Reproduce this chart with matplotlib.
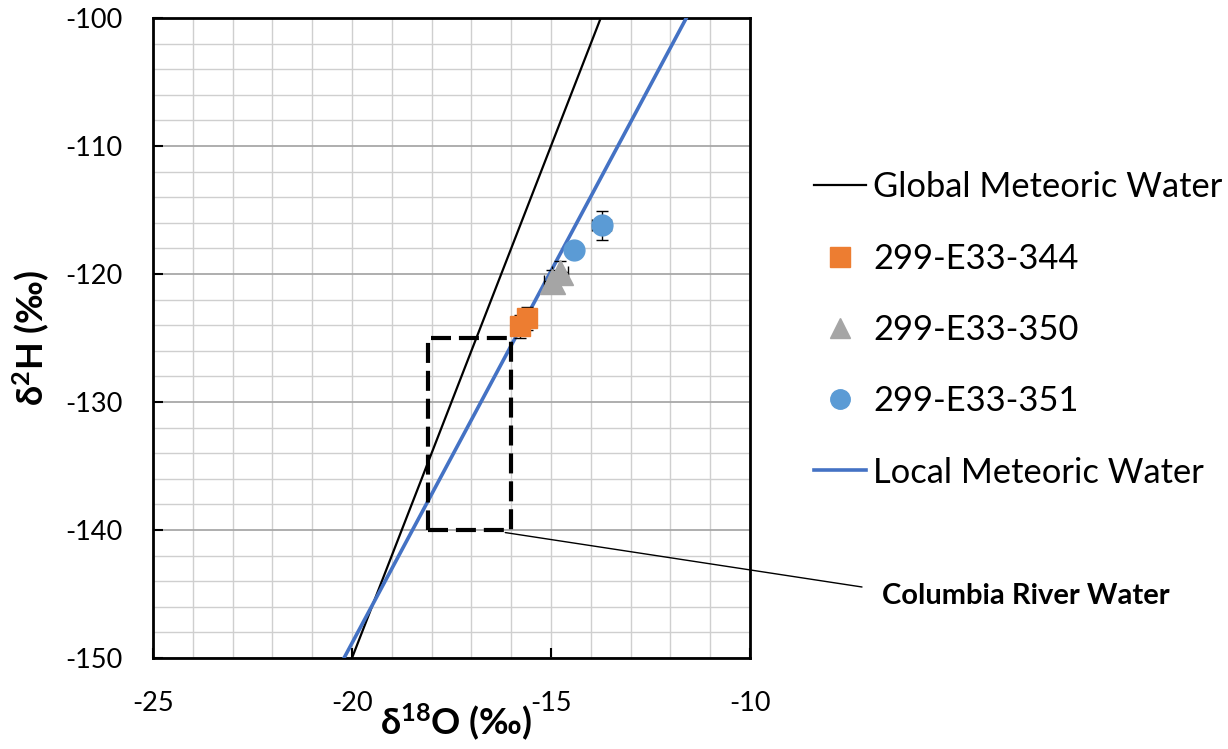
import matplotlib
matplotlib.use("Agg")
import matplotlib.pyplot as plt
from matplotlib.lines import Line2D
from matplotlib.ticker import MultipleLocator

plt.rcParams['font.family'] = ['Lato', 'DejaVu Sans']
plt.rcParams['axes.unicode_minus'] = False
plt.rcParams['mathtext.fontset'] = 'custom'
plt.rcParams['mathtext.rm'] = 'Lato'
plt.rcParams['mathtext.bf'] = 'Lato:bold'

# ---- data ----
gmwl_x = [-20.0, -13.75]
gmwl_y = [-150.0, -100.0]
lmwl_x = [-20.2, -11.6]
lmwl_y = [-150.0, -100.0]

w344_x = [-15.60, -15.78]
w344_y = [-123.45, -124.1]
w344_xerr = [0.15, 0.15]
w344_yerr = [0.9, 0.9]

w350_x = [-14.77, -14.97]
w350_y = [-119.85, -120.55]
w350_xerr = [0.2, 0.2]
w350_yerr = [0.9, 0.9]

w351_x = [-13.73, -14.43]
w351_y = [-116.2, -118.15]
w351_xerr = [0.24, 0.12]
w351_yerr = [1.15, 0.5]

box_x = [-18.1, -16.0, -16.0, -18.1, -18.1]
box_y = [-140.0, -140.0, -125.0, -125.0, -140.0]

x_ticks = [-25, -20, -15, -10]
y_ticks = [-150, -140, -130, -120, -110, -100]

W, H = 1228, 749
fig = plt.figure(figsize=(W / 100, H / 100), dpi=100)
ax = fig.add_axes([153 / W, 1 - 658 / H, (750 - 153) / W, (658 - 18) / H])
ax.set_xlim(-25, -10)
ax.set_ylim(-150, -100)

ax.xaxis.set_minor_locator(MultipleLocator(1))
ax.yaxis.set_minor_locator(MultipleLocator(2))
ax.set_xticks(x_ticks)
ax.set_yticks(y_ticks)
ax.grid(which='minor', color='#cfcfcf', lw=1.0, zorder=0)
ax.grid(which='major', axis='y', color='#a8a8a8', lw=1.3, zorder=0)
ax.grid(which='major', axis='x', color='#cfcfcf', lw=1.0, zorder=0)
ax.set_axisbelow(True)
ax.tick_params(which='major', direction='in', length=7, width=1.5, labelsize=19.5)
ax.tick_params(axis='y', pad=22)
ax.tick_params(axis='x', pad=24)
ax.tick_params(which='minor', length=0)
for s in ax.spines.values():
    s.set_linewidth(2.0)
    s.set_color('black')

ax.plot(gmwl_x, gmwl_y, color='black', lw=1.6, zorder=3)
ax.plot(lmwl_x, lmwl_y, color='#4472C4', lw=2.6, zorder=3)
ax.plot(box_x, box_y, color='black', lw=3.0, dashes=(4.8, 1.9), zorder=3)

ebkw = dict(ecolor='black', elinewidth=1.0, capsize=4, capthick=1.0, ls='none', zorder=4)
ax.errorbar(w344_x, w344_y, xerr=w344_xerr, yerr=w344_yerr, **ebkw)
ax.errorbar(w350_x, w350_y, xerr=w350_xerr, yerr=w350_yerr, **ebkw)
ax.errorbar(w351_x, w351_y, xerr=w351_xerr, yerr=w351_yerr, **ebkw)
ax.plot(w344_x, w344_y, 's', color='#ED7D31', ms=15, mec='#ED7D31', zorder=5)
ax.plot(w350_x, w350_y, '^', color='#A5A5A5', ms=18, mec='#A5A5A5', zorder=5)
ax.plot(w351_x, w351_y, 'o', color='#5B9BD5', ms=15, mec='#5B9BD5', zorder=5)

ax.set_xlabel(r'δ$\mathbf{^{18}}$O (‰)', fontsize=26, fontweight='bold')
ax.xaxis.set_label_coords((456 - 153) / 597, (658 - 702) / 640)
ax.set_ylabel(r'δ$\mathbf{^{2}}$H (‰)', fontsize=26, fontweight='bold')
ax.yaxis.set_label_coords((52 - 153) / 597, 0.5)

# annotation leader line and label
ax.annotate('', xy=(-16.15, -140.2), xycoords='data',
            xytext=(862 / W, 1 - 587 / H), textcoords='figure fraction',
            arrowprops=dict(arrowstyle='-', color='black', lw=1.0,
                            shrinkA=0, shrinkB=0),
            annotation_clip=False)
fig.text(882 / W, 1 - 596 / H, 'Columbia River Water', fontsize=21,
         fontweight='bold', va='center', ha='left')

handles = [
    Line2D([], [], color='black', lw=1.6),
    Line2D([], [], marker='s', color='#ED7D31', ls='none', ms=14),
    Line2D([], [], marker='^', color='#A5A5A5', ls='none', ms=14),
    Line2D([], [], marker='o', color='#5B9BD5', ls='none', ms=14),
    Line2D([], [], color='#4472C4', lw=2.6),
]
labels = ['Global Meteoric Water', '299-E33-344', '299-E33-350', '299-E33-351',
          'Local Meteoric Water']
fig.legend(handles, labels, loc='center left', bbox_to_anchor=(814 / W, 1 - 330 / H),
           frameon=False, fontsize=24.8, handlelength=1.51, handletextpad=0.2,
           labelspacing=1.14, borderpad=0, borderaxespad=0)

fig.savefig('out.png', dpi=100)
